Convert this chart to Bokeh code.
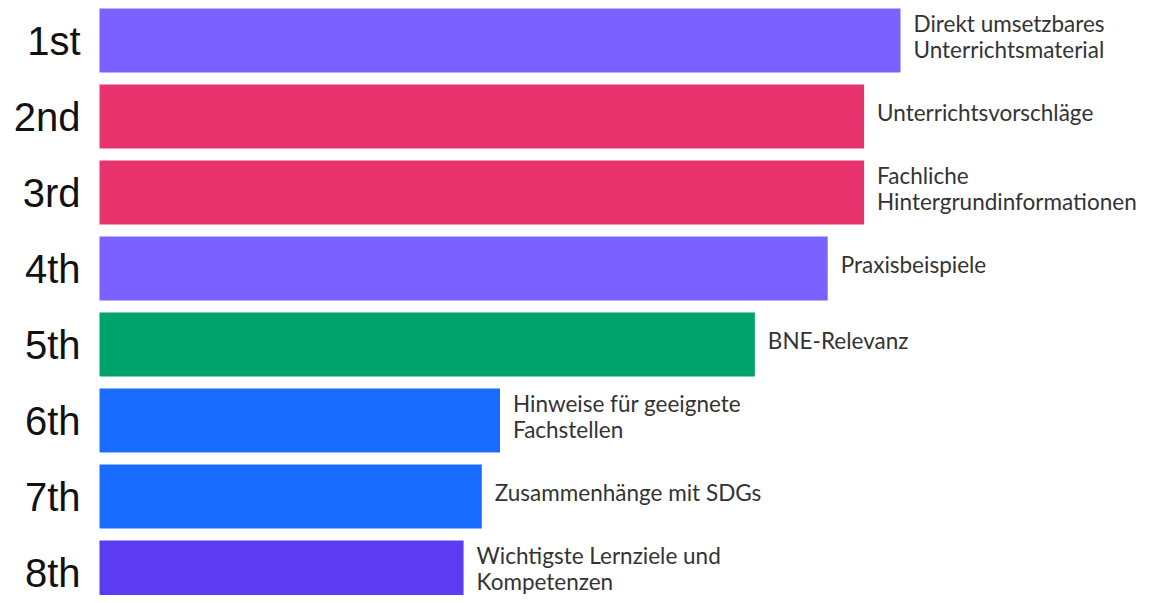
from bokeh.plotting import figure
from bokeh.models import Range1d, ColumnDataSource
from bokeh.core.properties import value
from bokeh.embed import file_html
from bokeh.resources import INLINE

ranks = ["1st", "2nd", "3rd", "4th", "5th", "6th", "7th", "8th"]
labels = [
    "Direkt umsetzbares\nUnterrichtsmaterial",
    "Unterrichtsvorschläge",
    "Fachliche\nHintergrundinformationen",
    "Praxisbeispiele",
    "BNE-Relevanz",
    "Hinweise für geeignete\nFachstellen",
    "Zusammenhänge mit SDGs",
    "Wichtigste Lernziele und\nKompetenzen",
]
scores = [88, 84, 84, 80, 72, 44, 42, 40]
colors = ["#7B61FF", "#E8336E", "#E8336E", "#7B61FF", "#00A36C", "#1A6BFF", "#1A6BFF", "#5B3CF2"]

W, H = 1149, 595
PX = 801 / 88.0          # pixels per unit on x
x0 = -99 / PX
x1 = x0 + W / PX
PY = 76.0
y_top = 1 - 40 / PY
y_bot = y_top + H / PY

pos = list(range(1, len(ranks) + 1))
src = ColumnDataSource(dict(y=pos, ly=[v - 4 / PY for v in pos], score=scores, color=colors,
                            label=labels, rank=ranks,
                            lx=[s + 13 / PX for s in scores], rx=[-19 / PX] * len(ranks)))

p = figure(width=W, height=H, output_backend="svg", toolbar_location=None,
           x_range=Range1d(x0, x1), y_range=Range1d(y_bot, y_top),
           min_border=0, min_border_left=0, min_border_right=0,
           min_border_top=0, min_border_bottom=0)
p.axis.visible = False
p.grid.visible = False
p.outline_line_color = None
p.background_fill_color = "white"
p.border_fill_color = "white"

p.hbar(y="y", left=0, right="score", height=64 / PY, color="color", line_color=None, source=src)
p.text(x="lx", y="ly", text="label", source=src, text_align="left", text_baseline="middle",
       text_font=value("Lato"), text_font_size="22.5px", text_color="#333333", text_line_height=0.97)
p.text(x="rx", y="y", text="rank", source=src, text_align="right", text_baseline="middle",
       text_font=value("Liberation Sans"), text_font_size="40px", text_color="#111111")

open("out.html", "w").write(file_html(p, INLINE))
